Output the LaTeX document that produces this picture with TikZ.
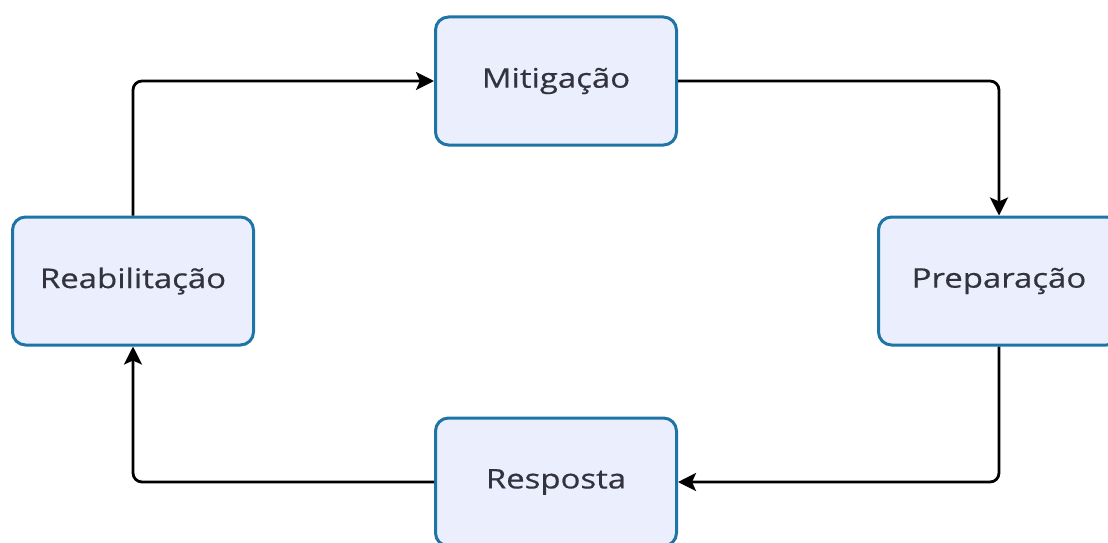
\documentclass[tikz,border=0pt]{standalone}
\usepackage{fontspec}
\setmainfont{Open Sans}[FakeStretch=1.22, FakeBold=0.6]
\usetikzlibrary{arrows.meta}
\definecolor{boxfill}{HTML}{EBEEFC}
\definecolor{boxline}{HTML}{1F74A6}
\definecolor{labeltext}{HTML}{33333F}
\tikzset{
  phase/.style={draw=boxline, line width=3pt, fill=boxfill, rounded corners=13pt,
    minimum width=241pt, minimum height=128pt, inner sep=0pt,
    font=\fontsize{27}{32}\selectfont, text=labeltext},
  flow/.style={draw=black, line width=2.8pt, rounded corners=9pt,
    -{Stealth[length=18pt,width=18pt,inset=4pt]}}
}
\begin{document}
\begin{tikzpicture}[x=1pt,y=-1pt]
  \useasboundingbox (0,0) rectangle (1108,543);
  \clip (0,0) rectangle (1108,543);
  % the four phases of the cycle
  \node[phase] (mit) at (556,81)  {Mitigação};
  \node[phase] (pre) at (999,281) {Preparação};
  \node[phase] (res) at (556,482) {Resposta};
  \node[phase] (rea) at (133,281) {Reabilitação};
  % cycle connectors
  \draw[flow] (rea.north) |- (mit.west);
  \draw[flow] (mit.east) -| (pre.north);
  \draw[flow] (pre.south) |- (res.east);
  \draw[flow] (res.west) -| (rea.south);
\end{tikzpicture}
\end{document}
